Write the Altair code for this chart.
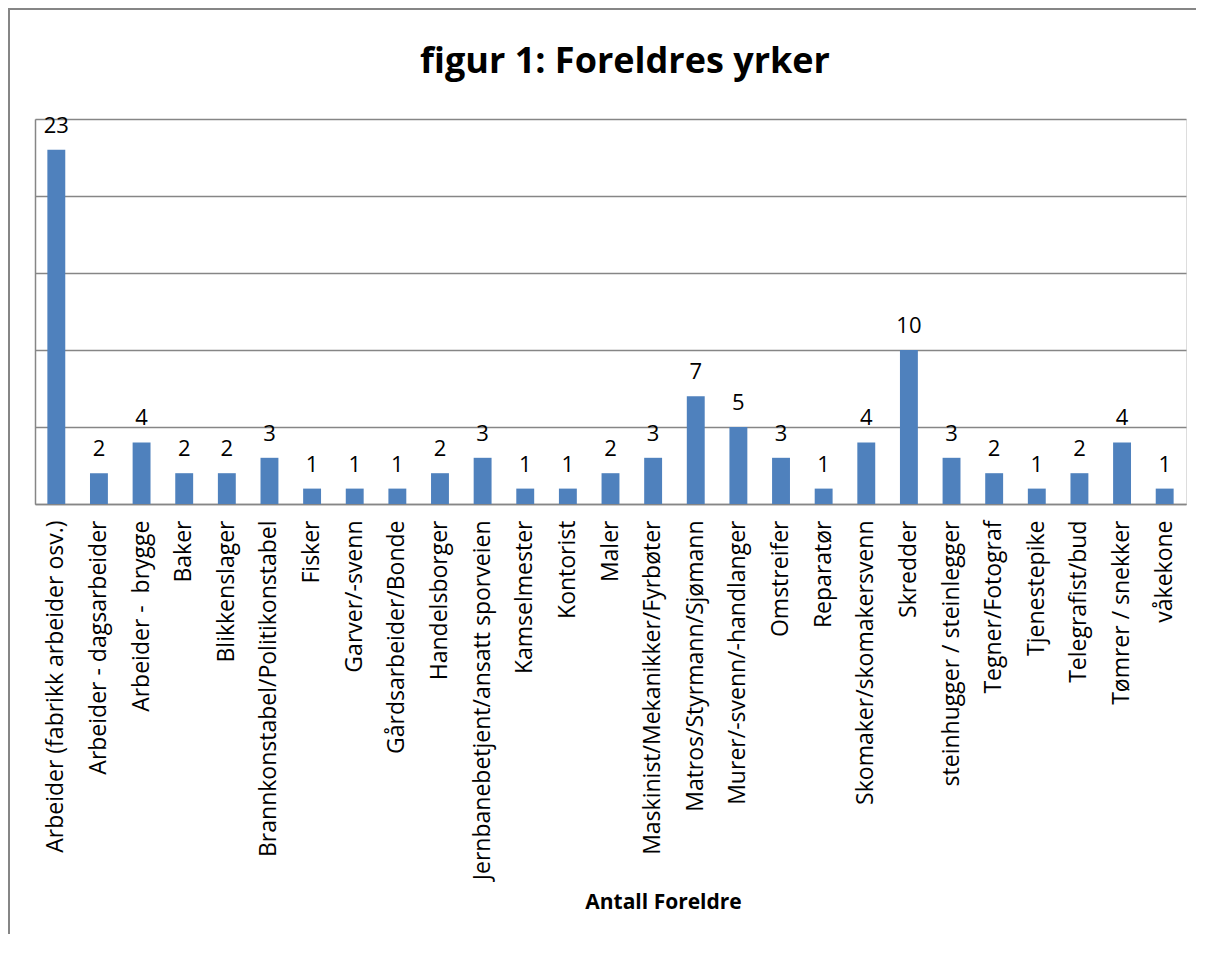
import altair as alt
import pandas as pd

categories = [
    "Arbeider (fabrikk arbeider osv.)", "Arbeider - dagsarbeider", "Arbeider -\u00a0 brygge",
    "Baker", "Blikkenslager", "Brannkonstabel/Politikonstabel", "Fisker", "Garver/-svenn",
    "Gårdsarbeider/Bonde", "Handelsborger", "Jernbanebetjent/ansatt sporveien", "Kamselmester",
    "Kontorist", "Maler", "Maskinist/Mekanikker/Fyrbøter", "Matros/Styrmann/Sjømann",
    "Murer/-svenn/-handlanger", "Omstreifer", "Reparatør", "Skomaker/skomakersvenn",
    "Skredder", "steinhugger / steinlegger", "Tegner/Fotograf", "Tjenestepike",
    "Telegrafist/bud", "Tømrer / snekker", "våkekone",
]
values = [23, 2, 4, 2, 2, 3, 1, 1, 1, 2, 3, 1, 1, 2, 3, 7, 5, 3, 1, 4, 10, 3, 2, 1, 2, 4, 1]
y_ticks = [0, 5, 10, 15, 20, 25]
title_text = "figur 1: Foreldres yrker"

df = pd.DataFrame({"yrke": categories, "antall": values})

W, H = 1151, 385
FONT = "Open Sans"
GRAY = "#868686"

y_scale = alt.Scale(domain=[0, 25], nice=False)

x_enc = alt.X(
    "yrke:N", sort=None,
    scale=alt.Scale(paddingInner=0.58, paddingOuter=0.29),
    axis=alt.Axis(
        title="Antall Foreldre", labelAngle=-90, labelPadding=16, labelLimit=0,
        labelFont=FONT, labelFontSize=23, labelColor="#000000",
        ticks=False, domainColor=GRAY, domainWidth=1.5,
        titleFont=FONT, titleFontSize=21, titleFontWeight="bold", titleColor="#000000",
        titleX=628, titleY=398, titleAlign="center", titleBaseline="middle",
    ),
)
y_enc = alt.Y(
    "antall:Q",
    scale=y_scale,
    axis=alt.Axis(
        title=None, labels=False, ticks=False, values=y_ticks,
        grid=True, gridColor=GRAY, gridWidth=1.5,
        domainColor=GRAY, domainWidth=1.5,
    ),
)

bars = alt.Chart(df).mark_bar(color="#4F81BD").encode(x=x_enc, y=y_enc)
labels = alt.Chart(df).mark_text(
    font=FONT, fontSize=22, color="#000000", baseline="alphabetic", dy=-17
).encode(
    x=alt.X("yrke:N", sort=None),
    y=alt.Y("antall:Q", scale=y_scale),
    text="antall:Q",
)

one = alt.Data(values=[{"t": title_text}])
title = alt.Chart(one).mark_text(
    font=FONT, fontSize=36, fontWeight="bold", color="#000000",
    align="center", baseline="middle",
).encode(text="t:N", x=alt.value(590), y=alt.value(-57))

frame_left = alt.Chart(one).mark_rule(color=GRAY, strokeWidth=2).encode(
    x=alt.value(-26), y=alt.value(-110), y2=alt.value(H + 440)
)
frame_top = alt.Chart(one).mark_rule(color=GRAY, strokeWidth=2).encode(
    x=alt.value(-27), x2=alt.value(1180), y=alt.value(-110)
)

chart = alt.layer(bars, labels, title, frame_left, frame_top).properties(
    width=W, height=H,
    autosize=alt.AutoSizeParams(type="none"),
    padding={"left": 27, "top": 111, "right": 10, "bottom": 430},
).configure_view(strokeWidth=0, stroke="transparent").configure(background="#ffffff")

chart.save("out.html", embed_options={"renderer": "svg", "actions": False})
